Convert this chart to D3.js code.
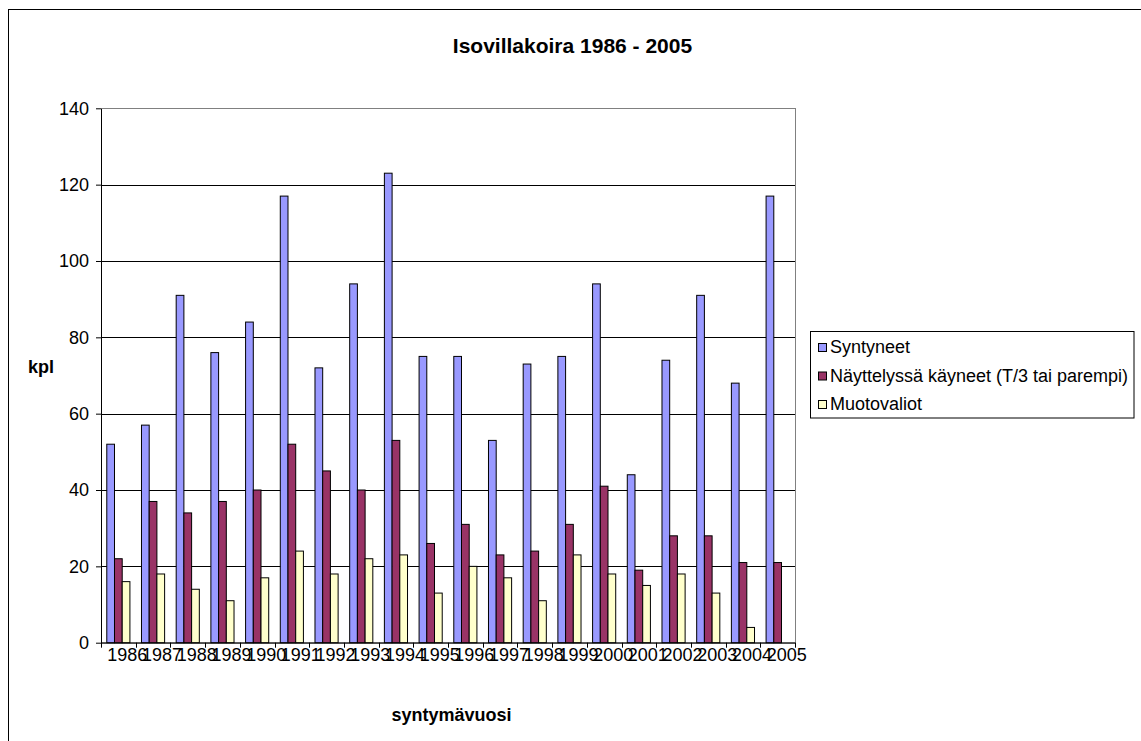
<!DOCTYPE html>
<html>
<head>
<meta charset="utf-8">
<script src="https://cdn.jsdelivr.net/npm/d3@7/dist/d3.min.js"></script>
<style>
  html, body { margin: 0; padding: 0; background: #fff; }
  svg { display: block; font-family: "Liberation Sans", Arial, sans-serif; }
</style>
</head>
<body>
<svg id="chart" width="1141" height="741"></svg>
<script>
// ---- data ----
const years = ["1986","1987","1988","1989","1990","1991","1992","1993","1994","1995",
               "1996","1997","1998","1999","2000","2001","2002","2003","2004","2005"];
const syntyneet = [52,57,91,76,84,117,72,94,123,75,75,53,73,75,94,44,74,91,68,117];
const nayttelyssa = [22,37,34,37,40,52,45,40,53,26,31,23,24,31,41,19,28,28,21,21];
const muotovaliot = [16,18,14,11,17,24,18,22,23,13,20,17,11,23,18,15,18,13,4,0];
const seriesNames = ["Syntyneet", "Näyttelyssä käyneet (T/3 tai parempi)", "Muotovaliot"];
const seriesColors = ["#9999FF", "#993366", "#FFFFCC"];
const yTicks = [0,20,40,60,80,100,120,140];
const titleText = "Isovillakoira 1986 - 2005";
const xTitle = "syntymävuosi";
const yTitle = "kpl";

const series = [syntyneet, nayttelyssa, muotovaliot];

const svg = d3.select("#chart");

// chart area frame (extends beyond viewport on right/bottom)
svg.append("rect")
  .attr("x", 8.5).attr("y", 9.5)
  .attr("width", 1145).attr("height", 745)
  .attr("fill", "#fff").attr("stroke", "#000").attr("stroke-width", 1);

const plot = { left: 101, right: 795, top: 108.3, bottom: 642.7 };

const x0 = d3.scaleBand().domain(years).range([plot.left, plot.right]).padding(0);
const y = d3.scaleLinear().domain([0, 140]).range([plot.bottom, plot.top]);
const bw = x0.bandwidth();
const w = bw / 4.5; // Excel gap width 150%

// plot area border (gray)
svg.append("rect")
  .attr("x", plot.left).attr("y", plot.top)
  .attr("width", plot.right - plot.left).attr("height", plot.bottom - plot.top)
  .attr("fill", "#fff").attr("stroke", "#808080").attr("stroke-width", 1)
  .attr("shape-rendering", "crispEdges");

// gridlines
svg.append("g").selectAll("line")
  .data(yTicks.filter(v => v > 0))
  .join("line")
  .attr("x1", plot.left).attr("x2", plot.right)
  .attr("y1", d => Math.round(y(d)) + 0.5).attr("y2", d => Math.round(y(d)) + 0.5)
  .attr("stroke", d => d === 140 ? "#808080" : "#000")
  .attr("stroke-width", 1);

// bars
const barG = svg.append("g");
series.forEach((vals, i) => {
  barG.append("g").selectAll("rect")
    .data(vals.map((v, j) => ({ year: years[j], v })))
    .join("rect")
    .filter(d => d.v > 0)
    .attr("x", d => x0(d.year) + 0.75 * w + i * w)
    .attr("y", d => y(d.v))
    .attr("width", w)
    .attr("height", d => y(0) - y(d.v))
    .attr("fill", seriesColors[i])
    .attr("stroke", "#000")
    .attr("stroke-width", 1);
});

// y axis
const yAxis = svg.append("g")
  .attr("transform", `translate(${plot.left},0)`)
  .call(d3.axisLeft(y).tickValues(yTicks).tickSize(5).tickPadding(7).tickSizeOuter(0));
yAxis.select(".domain").attr("stroke", "#000");
yAxis.selectAll(".tick line").attr("stroke", "#000");
yAxis.selectAll("text").attr("font-size", 18).attr("fill", "#000")
  .attr("font-family", "'Liberation Sans', Arial, sans-serif");

// x axis
const xAxis = svg.append("g")
  .attr("transform", `translate(0,${plot.bottom})`)
  .call(d3.axisBottom(x0).tickSize(0).tickPadding(6).tickSizeOuter(0));
xAxis.select(".domain").attr("stroke", "#000");
xAxis.selectAll("text").attr("font-size", 18).attr("fill", "#000")
  .attr("dx", 9)
  .attr("font-family", "'Liberation Sans', Arial, sans-serif");

// category boundary ticks
const bounds = years.map(yv => x0(yv)).concat([plot.right]);
svg.append("g").selectAll("line")
  .data(bounds)
  .join("line")
  .attr("x1", d => Math.round(d) + 0.5).attr("x2", d => Math.round(d) + 0.5)
  .attr("y1", plot.bottom).attr("y2", plot.bottom + 5)
  .attr("stroke", "#000");

// title
svg.append("text")
  .attr("x", 572.5).attr("y", 53)
  .attr("text-anchor", "middle")
  .attr("font-size", 21).attr("font-weight", "bold")
  .text(titleText);

// axis titles
svg.append("text")
  .attr("x", 451.5).attr("y", 721)
  .attr("text-anchor", "middle")
  .attr("font-size", 18).attr("font-weight", "bold")
  .text(xTitle);

svg.append("text")
  .attr("x", 41).attr("y", 373)
  .attr("text-anchor", "middle")
  .attr("font-size", 18).attr("font-weight", "bold")
  .text(yTitle);

// legend
const leg = svg.append("g");
leg.append("rect")
  .attr("x", 810.5).attr("y", 331.5)
  .attr("width", 323.5).attr("height", 86.5)
  .attr("fill", "#fff").attr("stroke", "#000").attr("stroke-width", 1);
const rowY = [353, 381.5, 410];
seriesNames.forEach((name, i) => {
  leg.append("rect")
    .attr("x", 818.5).attr("y", rowY[i] - 9.5)
    .attr("width", 8).attr("height", 8)
    .attr("fill", seriesColors[i]).attr("stroke", "#000").attr("stroke-width", 1);
  leg.append("text")
    .attr("x", 830).attr("y", rowY[i])
    .attr("font-size", 18)
    .text(name);
});
</script>
</body>
</html>
